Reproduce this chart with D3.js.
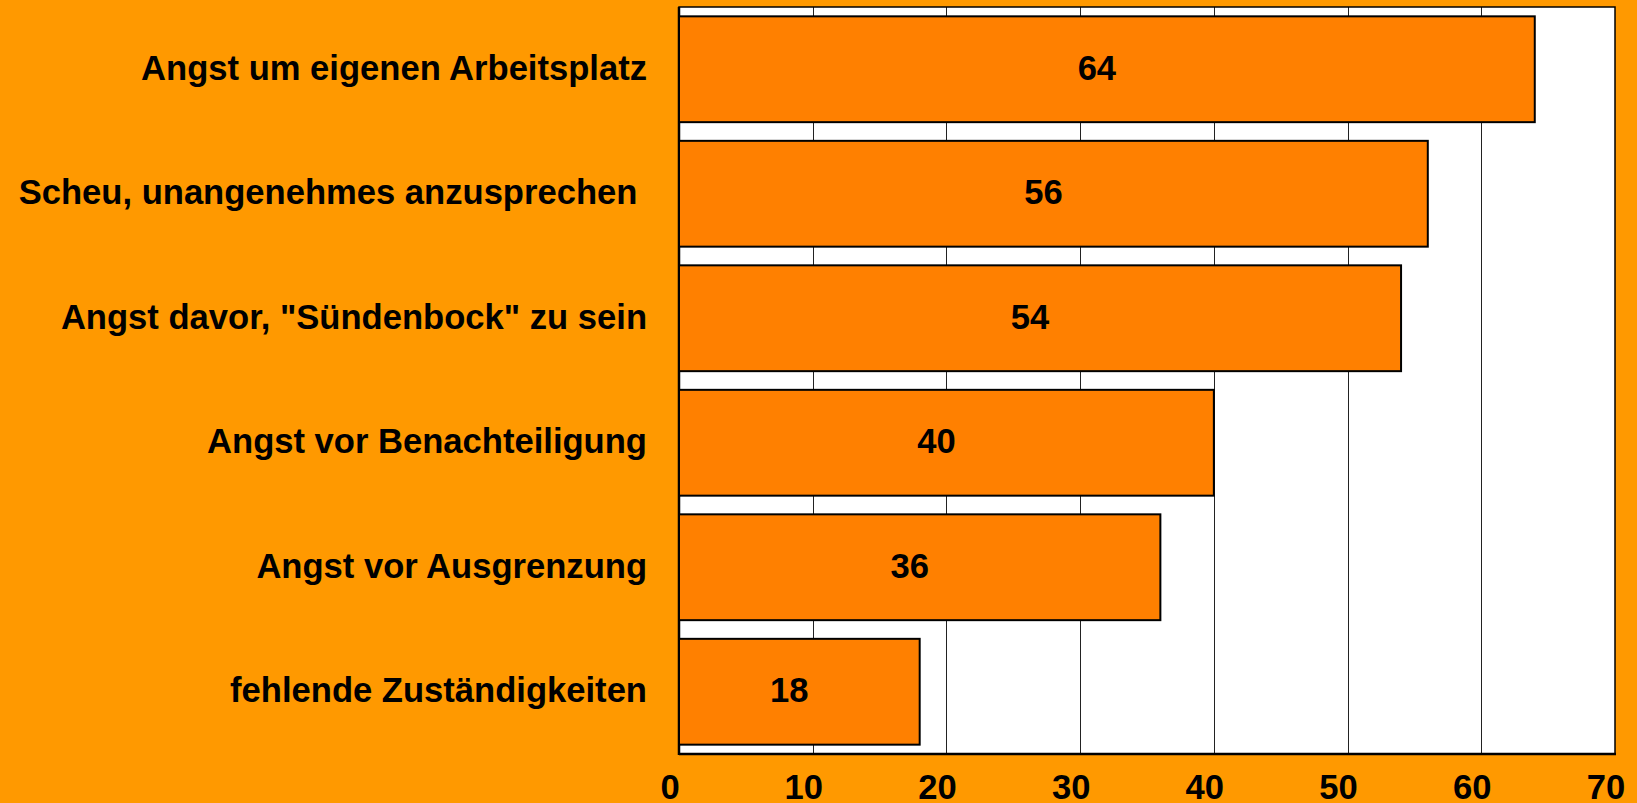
<!DOCTYPE html>
<html>
<head>
<meta charset="utf-8">
<script src="https://cdn.jsdelivr.net/npm/d3@7"></script>
<style>
  html, body { margin: 0; padding: 0; background: #FF9900; }
  svg { display: block; }
  text { font-family: "Liberation Sans", Arial, sans-serif; font-weight: bold; white-space: pre; }
</style>
</head>
<body>
<svg id="chart" width="1637" height="803"></svg>
<script>
const categories = [
  "Angst um eigenen Arbeitsplatz",
  "Scheu, unangenehmes anzusprechen ",
  "Angst davor, \"Sündenbock\" zu sein",
  "Angst vor Benachteiligung",
  "Angst vor Ausgrenzung",
  "fehlende Zuständigkeiten"
];
const values = [64, 56, 54, 40, 36, 18];
const tickValues = [0, 10, 20, 30, 40, 50, 60, 70];

const W = 1637, H = 803;
const plot = { left: 679, right: 1615, top: 7, bottom: 754 };
const fontSize = 34.6;

const svg = d3.select("#chart");
svg.append("rect").attr("width", W).attr("height", H).attr("fill", "#FF9900");

const x = d3.scaleLinear().domain([0, 70]).range([plot.left, plot.right]);
const y = d3.scaleBand().domain(categories).range([plot.top, plot.bottom])
  .paddingInner(0.15).paddingOuter(0.075);

// plot background
svg.append("rect")
  .attr("x", plot.left).attr("y", plot.top)
  .attr("width", plot.right - plot.left).attr("height", plot.bottom - plot.top)
  .attr("fill", "#FFFFFF");

// gridlines
svg.append("g").selectAll("line")
  .data(tickValues.filter(t => t > 0 && t < 70))
  .join("line")
  .attr("x1", d => Math.round(x(d)) + 0.5).attr("x2", d => Math.round(x(d)) + 0.5)
  .attr("y1", plot.top).attr("y2", plot.bottom)
  .attr("stroke", "#222").attr("stroke-width", 1);

// plot border
svg.append("rect")
  .attr("x", plot.left).attr("y", plot.top)
  .attr("width", plot.right - plot.left).attr("height", plot.bottom - plot.top)
  .attr("fill", "none").attr("stroke", "#000").attr("stroke-width", 1.5);
svg.append("line").attr("x1", plot.left).attr("x2", plot.left)
  .attr("y1", plot.top).attr("y2", plot.bottom + 1).attr("stroke", "#000").attr("stroke-width", 2.5);
svg.append("line").attr("x1", plot.left).attr("x2", plot.right + 1)
  .attr("y1", plot.bottom).attr("y2", plot.bottom).attr("stroke", "#000").attr("stroke-width", 2.5);

// bars
svg.append("g").selectAll("rect")
  .data(values)
  .join("rect")
  .attr("x", x(0))
  .attr("y", (d, i) => y(categories[i]))
  .attr("width", d => x(d) - x(0))
  .attr("height", y.bandwidth())
  .attr("fill", "#FF8000")
  .attr("stroke", "#000")
  .attr("stroke-width", 2);

// value labels
svg.append("g").selectAll("text")
  .data(values)
  .join("text")
  .attr("x", d => (x(0) + x(d)) / 2 - 10)
  .attr("y", (d, i) => y(categories[i]) + y.bandwidth() / 2)
  .attr("dy", "0.3em")
  .attr("text-anchor", "middle")
  .attr("font-size", fontSize)
  .attr("fill", "#000")
  .text(d => d);

// category labels
svg.append("g").selectAll("text")
  .data(categories)
  .join("text")
  .attr("x", 647)
  .attr("y", d => y(d) + y.bandwidth() / 2)
  .attr("dy", "0.3em")
  .attr("text-anchor", "end")
  .attr("font-size", fontSize)
  .attr("fill", "#000")
  .text(d => d);

// x axis
const xAxis = d3.axisBottom(x).tickValues(tickValues).tickSize(0).tickFormat(d3.format("d"));
const gx = svg.append("g").attr("transform", `translate(0,${plot.bottom})`).call(xAxis);
gx.select(".domain").remove();
gx.selectAll("text")
  .attr("y", 45).attr("dy", 0).attr("dx", -9.5)
  .attr("font-size", fontSize)
  .attr("font-family", "\"Liberation Sans\", Arial, sans-serif")
  .attr("font-weight", "bold")
  .attr("fill", "#000");
</script>
</body>
</html>
